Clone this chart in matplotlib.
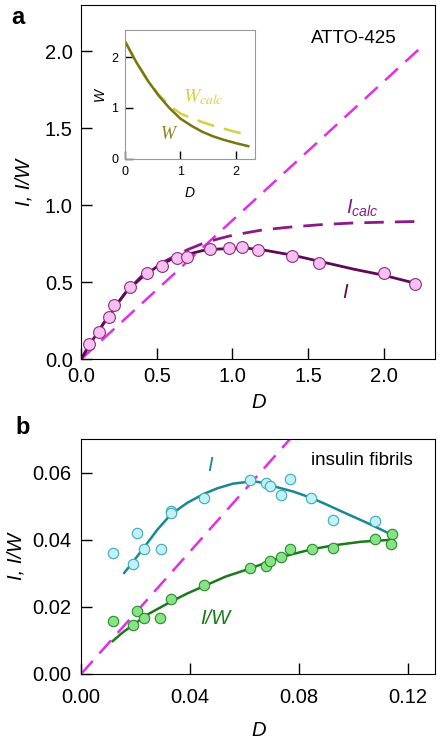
import numpy as np
import matplotlib
matplotlib.use("Agg")
import matplotlib.pyplot as plt

plt.rcParams['font.family'] = ['Liberation Sans', 'DejaVu Sans']
plt.rcParams['mathtext.fontset'] = 'custom'
plt.rcParams['mathtext.it'] = 'Liberation Sans:italic'

# ---- panel a : ATTO-425 ----
a_D = [0.055, 0.121, 0.181, 0.220, 0.324, 0.434, 0.533, 0.632, 0.698, 0.853,
       0.974, 1.066, 1.168, 1.392, 1.575, 2.003, 2.203]
a_I = [0.100, 0.178, 0.275, 0.352, 0.467, 0.558, 0.608, 0.655, 0.666, 0.714,
       0.720, 0.727, 0.711, 0.673, 0.623, 0.558, 0.488]

a_fit_D = [0.0, 0.05, 0.1, 0.15, 0.2, 0.25, 0.3, 0.4, 0.5, 0.6, 0.7, 0.8, 0.9,
           1.0, 1.1, 1.2, 1.4, 1.6, 1.8, 2.0, 2.2]
a_fit_I = [0.0, 0.085, 0.16, 0.235, 0.30, 0.375, 0.44, 0.53, 0.60, 0.65, 0.68,
           0.705, 0.715, 0.72, 0.72, 0.71, 0.675, 0.63, 0.585, 0.545, 0.495]

a_calc_D = [0.0, 0.05, 0.1, 0.15, 0.2, 0.3, 0.4, 0.5, 0.6, 0.7, 0.8, 0.9, 1.0,
            1.2, 1.4, 1.6, 1.8, 2.0, 2.24]
a_calc_I = [0.0, 0.085, 0.16, 0.235, 0.31, 0.44, 0.54, 0.61, 0.66, 0.71, 0.75,
            0.78, 0.805, 0.84, 0.86, 0.875, 0.885, 0.89, 0.895]

a_lin_D = [0.0, 2.25]
a_lin_I = [0.0, 2.03]

# inset: W and W_calc
w_D = [0.0, 0.2, 0.4, 0.6, 0.8, 1.0, 1.2, 1.4, 1.6, 1.8, 2.0, 2.23]
w_W = [2.30, 1.90, 1.55, 1.25, 1.00, 0.79, 0.65, 0.53, 0.44, 0.37, 0.31, 0.25]
wc_D = [0.0, 0.2, 0.4, 0.6, 0.8, 1.0, 1.2, 1.4, 1.6, 1.8, 2.0, 2.23]
wc_W = [2.30, 1.90, 1.56, 1.27, 1.05, 0.89, 0.80, 0.72, 0.65, 0.59, 0.53, 0.47]

# ---- panel b : insulin fibrils ----
b_D = [0.0116, 0.0190, 0.0204, 0.0232, 0.0292, 0.0329, 0.0329, 0.0452, 0.0620,
       0.0677, 0.0693, 0.0733, 0.0766, 0.0843, 0.0925, 0.1078]
b_I = [0.0359, 0.0329, 0.0420, 0.0371, 0.0371, 0.0484, 0.0478, 0.0525, 0.0577,
       0.0569, 0.0561, 0.0532, 0.0582, 0.0525, 0.0458, 0.0455]
b_fit_D = [0.0158, 0.0177, 0.0195, 0.0232, 0.0280, 0.0329, 0.0390, 0.0452,
           0.0500, 0.0558, 0.0631, 0.0680, 0.0716, 0.0780, 0.0843, 0.0900,
           0.0962, 0.1050, 0.1145]
b_fit_I = [0.0301, 0.0320, 0.0339, 0.0378, 0.0430, 0.0475, 0.0510, 0.0537,
           0.0553, 0.0567, 0.0574, 0.0568, 0.0557, 0.0543, 0.0525, 0.0505,
           0.0482, 0.0450, 0.0413]

bw_D = [0.0116, 0.0190, 0.0204, 0.0232, 0.0291, 0.0329, 0.0452, 0.0620, 0.0677,
        0.0693, 0.0733, 0.0766, 0.0846, 0.0925, 0.1078, 0.1143, 0.1136]
bw_IW = [0.0158, 0.0146, 0.0188, 0.0167, 0.0168, 0.0222, 0.0264, 0.0317, 0.0322,
         0.0337, 0.0349, 0.0371, 0.0371, 0.0375, 0.0402, 0.0416, 0.0388]
bw_fit_D = [0.0116, 0.0150, 0.0190, 0.0250, 0.0329, 0.0390, 0.0452, 0.0530,
            0.0620, 0.0700, 0.0766, 0.0850, 0.0925, 0.1030, 0.1145]
bw_fit_IW = [0.0098, 0.0122, 0.0146, 0.0180, 0.0215, 0.0240, 0.0262, 0.0290,
             0.0314, 0.0338, 0.0355, 0.0372, 0.0383, 0.0394, 0.0400]

b_lin_D = [0.0, 0.08]
b_lin_I = [0.0, 0.0730]

magenta = '#e030e6'
dash = (0, (7, 4))

fig = plt.figure(figsize=(4.41, 7.39), dpi=100)

ax = fig.add_axes([0.184, 0.514, 0.803, 0.479])
ax.plot(a_lin_D, a_lin_I, color=magenta, lw=1.8, linestyle=dash)
ax.plot(a_calc_D, a_calc_I, color='#8a1a88', lw=2.0, linestyle=dash)
ax.plot(a_fit_D, a_fit_I, color='#5c0a58', lw=2.0)
ax.plot(a_D, a_I, 'o', ms=8.5, mfc='#f8bff2', mec='#8a3080', mew=0.8)
ax.set_xlim(0, 2.34)
ax.set_ylim(0, 2.3)
ax.set_xticks([0, 0.5, 1.0, 1.5, 2.0])
ax.set_yticks([0, 0.5, 1.0, 1.5, 2.0])
ax.xaxis.set_major_formatter(matplotlib.ticker.FormatStrFormatter('%.1f'))
ax.yaxis.set_major_formatter(matplotlib.ticker.FormatStrFormatter('%.1f'))
ax.tick_params(direction='in', length=8, width=1, labelsize=14.5, pad=6)
ax.set_xlabel('D', fontsize=14.5, style='italic', labelpad=5)
ax.set_ylabel('I, I/W', fontsize=14.5, style='italic', labelpad=8)
ax.text(0.77, 0.907, 'ATTO-425', transform=ax.transAxes, fontsize=13.5,
        ha='center', va='center')
ax.text(1.86, 0.98, r'$I_{calc}$', color='#8a1a88', fontsize=14.5,
        ha='center', va='center')
ax.text(1.745, 0.43, 'I', color='#5c0a58', fontsize=14.5, style='italic',
        ha='center', va='center')
fig.text(0.026, 0.976, 'a', fontsize=17, fontweight='bold', va='center')

ins = fig.add_axes([0.284, 0.785, 0.294, 0.175])
ins.plot(wc_D, wc_W, color='#d8d040', lw=1.8, linestyle=dash)
ins.plot(w_D, w_W, color='#7a7410', lw=1.8)
ins.set_xlim(0, 2.35)
ins.set_ylim(0, 2.54)
ins.set_xticks([0, 1, 2])
ins.set_yticks([0, 1, 2])
for s in ins.spines.values():
    s.set_color('#999999')
ins.tick_params(direction='in', length=6, width=1, labelsize=9, pad=5)
ins.set_xlabel('D', fontsize=10, style='italic', labelpad=6)
ins.set_ylabel('W', fontsize=10, style='italic', labelpad=3)
ins.text(1.41, 1.21, r'$W_{calc}$', color='#d8d040', fontsize=14,
         ha='center', va='center', math_fontfamily='stix')
ins.text(0.78, 0.48, 'W', color='#8a8420', fontsize=13, ha='center',
         va='center', family='Liberation Serif', style='italic')

bx = fig.add_axes([0.184, 0.088, 0.803, 0.318])
bx.plot(b_lin_D, b_lin_I, color=magenta, lw=1.8, linestyle=dash)
bx.plot(b_fit_D, b_fit_I, color='#1a8890', lw=1.8)
bx.plot(bw_fit_D, bw_fit_IW, color='#1a7a1a', lw=1.8)
bx.plot(b_D, b_I, 'o', ms=7.5, mfc='#bff2f5', mec='#40a8b8', mew=0.8)
bx.plot(bw_D, bw_IW, 'o', ms=7.5, mfc='#86e386', mec='#2a8a2a', mew=0.8)
bx.set_xlim(0, 0.13)
bx.set_ylim(0, 0.07)
bx.set_xticks([0, 0.04, 0.08, 0.12])
bx.set_yticks([0, 0.02, 0.04, 0.06])
bx.xaxis.set_major_formatter(matplotlib.ticker.FormatStrFormatter('%.2f'))
bx.yaxis.set_major_formatter(matplotlib.ticker.FormatStrFormatter('%.2f'))
bx.tick_params(direction='in', length=8, width=1, labelsize=14.5, pad=7)
bx.tick_params(axis='x', pad=10)
bx.set_xlabel('D', fontsize=14.5, style='italic', labelpad=10)
bx.set_ylabel('I, I/W', fontsize=14.5, style='italic', labelpad=5)
bx.text(0.793, 0.909, 'insulin fibrils', transform=bx.transAxes,
        fontsize=13.5, ha='center', va='center')
bx.text(0.0473, 0.0621, 'I', color='#1a8890', fontsize=14.5, style='italic',
        ha='center', va='center')
bx.text(0.0491, 0.0166, 'I/W', color='#1a7a1a', fontsize=14.5,
        style='italic', ha='center', va='center')
fig.text(0.034, 0.421, 'b', fontsize=17, fontweight='bold', va='center')

fig.savefig('out.png', dpi=100)
